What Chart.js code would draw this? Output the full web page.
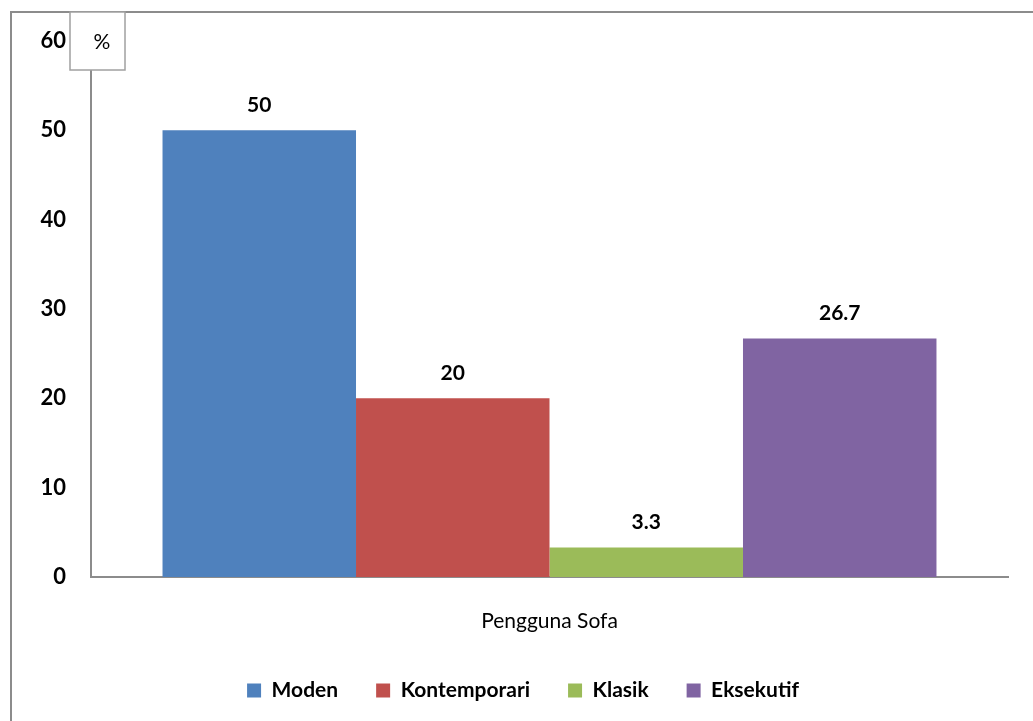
<!DOCTYPE html>
<html>
<head>
<meta charset="utf-8">
<script src="https://cdn.jsdelivr.net/npm/chart.js@4/dist/chart.umd.min.js"></script>
<style>
  html, body { margin: 0; padding: 0; background: #fff; }
  #wrap { width: 1033px; height: 721px; position: relative; }
</style>
</head>
<body>
<div id="wrap"><canvas id="sofa-chart"></canvas></div>
<script>
const categories = ["Pengguna Sofa"];
const seriesNames = ["Moden", "Kontemporari", "Klasik", "Eksekutif"];
const modenValues = [50];
const kontemporariValues = [20];
const klasikValues = [3.3];
const eksekutifValues = [26.7];
const seriesColors = ["#4F81BD", "#C0504D", "#9BBB59", "#8064A2"];
const yTicks = [0, 10, 20, 30, 40, 50, 60];

const fontFamily = "Lato, 'Open Sans', sans-serif";
const chartCanvas = document.getElementById("sofa-chart");

// frame lines and the little "%" box in the top left
const framePlugin = {
  id: "frame",
  afterLayout(chart) {
    // legend sits a bit right of centre in the original
    chart.legend.left += 19;
    chart.legend.right += 19;
  },
  afterDraw(chart) {
    const ctx = chart.ctx;
    ctx.save();
    ctx.strokeStyle = "#8c8c8c";
    ctx.lineWidth = 2;
    ctx.beginPath();
    ctx.moveTo(11, chart.height);
    ctx.lineTo(11, 12);
    ctx.lineTo(chart.width, 12);
    ctx.stroke();
    // unit box
    ctx.fillStyle = "#fff";
    ctx.fillRect(70, 12, 55, 58);
    ctx.strokeStyle = "#a0a0a0";
    ctx.lineWidth = 1.5;
    ctx.strokeRect(70, 12, 55, 58);
    ctx.fillStyle = "#000";
    ctx.font = "21px " + fontFamily;
    ctx.textAlign = "center";
    ctx.textBaseline = "middle";
    ctx.fillText("%", 102, 42);
    ctx.restore();
  }
};

// value labels above each bar
const valueLabels = {
  id: "valueLabels",
  afterDatasetsDraw(chart) {
    const ctx = chart.ctx;
    ctx.save();
    ctx.fillStyle = "#000";
    ctx.font = "bold 21px " + fontFamily;
    ctx.textAlign = "center";
    ctx.textBaseline = "middle";
    chart.data.datasets.forEach((ds, i) => {
      chart.getDatasetMeta(i).data.forEach((bar, j) => {
        ctx.fillText(String(ds.data[j]), bar.x, bar.y - 25);
      });
    });
    ctx.restore();
  }
};

const valueSets = [modenValues, kontemporariValues, klasikValues, eksekutifValues];

const sofaData = {
  labels: categories,
  datasets: seriesNames.map((name, i) => ({
    label: name,
    data: valueSets[i],
    backgroundColor: seriesColors[i],
    borderWidth: 0,
    categoryPercentage: 0.844,
    barPercentage: 1
  }))
};

const sofaOptions = {
  responsive: true,
  maintainAspectRatio: false,
  animation: false,
  layout: {
    padding: { left: 0, top: 41, right: 25, bottom: 10 }
  },
  scales: {
    x: {
      grid: { display: false, drawTicks: false },
      border: { display: true, color: "#8c8c8c", width: 2 },
      ticks: {
        color: "#000",
        padding: 32,
        font: { family: fontFamily, size: 21 }
      },
      afterFit(scale) { scale.height = 65; }
    },
    y: {
      min: 0,
      max: 60,
      afterBuildTicks(scale) { scale.ticks = yTicks.map(v => ({ value: v })); },
      grid: { display: false, drawTicks: false },
      border: { display: true, color: "#8c8c8c", width: 2 },
      ticks: {
        color: "#000",
        padding: 25,
        font: { family: fontFamily, size: 22, weight: "bold" }
      },
      afterFit(scale) { scale.width = 91; }
    }
  },
  plugins: {
    legend: {
      position: "bottom",
      labels: {
        color: "#000",
        boxWidth: 14,
        boxHeight: 14,
        padding: 38,
        font: { family: fontFamily, size: 21, weight: "bold" }
      }
    },
    tooltip: { enabled: false }
  }
};

let sofaChart = new Chart(chartCanvas, {
  type: "bar",
  data: sofaData,
  options: sofaOptions,
  plugins: [valueLabels, framePlugin]
});
</script>
</body>
</html>
